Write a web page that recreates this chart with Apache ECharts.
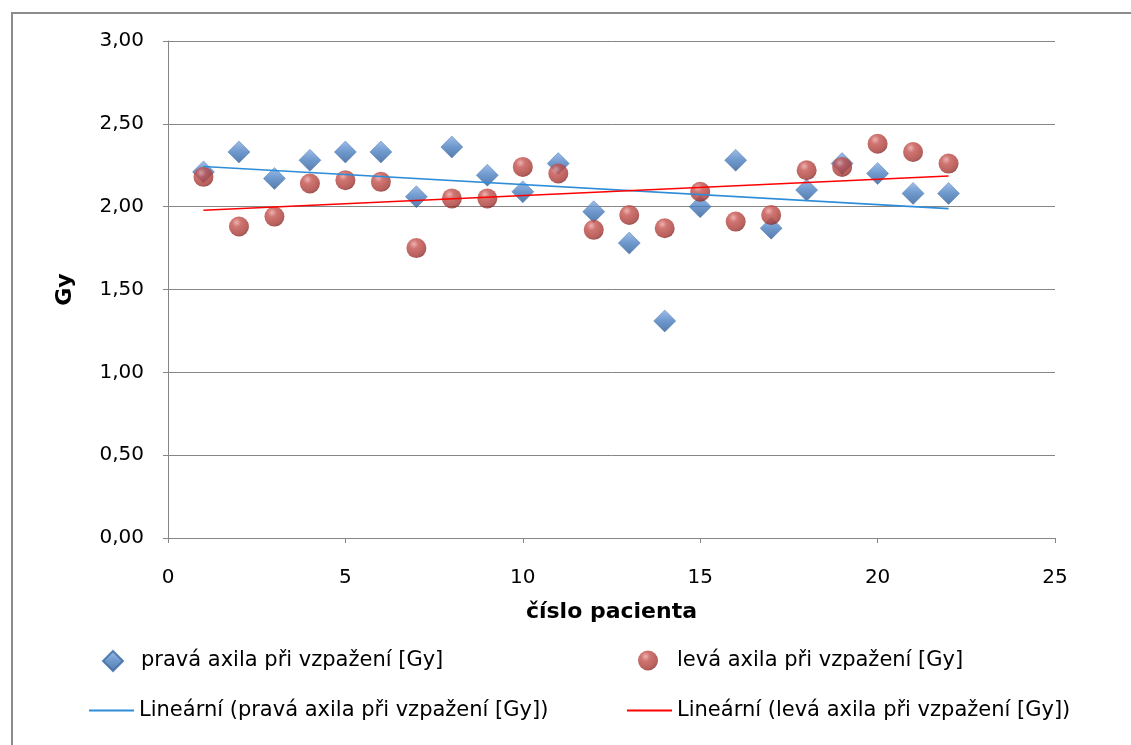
<!DOCTYPE html>
<html>
<head>
<meta charset="utf-8">
<script src="https://cdn.jsdelivr.net/npm/echarts@6/dist/echarts.min.js"></script>
<style>
html,body{margin:0;padding:0;background:#fff;}
#chart{width:1131px;height:745px;}
</style>
</head>
<body>
<div id="chart"></div>
<script>
// Data
const patients = [1,2,3,4,5,6,7,8,9,10,11,12,13,14,15,16,17,18,19,20,21,22];
const rightAxilla = [2.21,2.33,2.17,2.28,2.33,2.33,2.06,2.36,2.19,2.09,2.26,1.97,1.78,1.31,2.00,2.28,1.87,2.10,2.26,2.20,2.08,2.08];
const leftAxilla  = [2.18,1.88,1.94,2.14,2.16,2.15,1.75,2.05,2.05,2.24,2.20,1.86,1.95,1.87,2.09,1.91,1.95,2.22,2.24,2.38,2.33,2.26];
const xTicks = [0,5,10,15,20,25];
const yTicks = [0,0.5,1,1.5,2,2.5,3];

const nameRight = 'pravá axila při vzpažení [Gy]';
const nameLeft = 'levá axila při vzpažení [Gy]';
const nameRightTrend = 'Lineární (pravá axila při vzpažení [Gy])';
const nameLeftTrend = 'Lineární (levá axila při vzpažení [Gy])';

// least-squares linear trend (like Excel's "Lineární" trendline)
function trend(xs, ys) {
  const n = xs.length;
  let sx=0, sy=0, sxx=0, sxy=0;
  for (let i=0;i<n;i++){ sx+=xs[i]; sy+=ys[i]; sxx+=xs[i]*xs[i]; sxy+=xs[i]*ys[i]; }
  const b = (n*sxy - sx*sy)/(n*sxx - sx*sx);
  const a = (sy - b*sx)/n;
  const x0 = xs[0], x1 = xs[n-1];
  return [[x0, a+b*x0],[x1, a+b*x1]];
}

const font = 'DejaVu Sans';
const chart = echarts.init(document.getElementById('chart'), null, {renderer:'canvas'});

const diamondFill = {type:'linear',x:0,y:0,x2:0,y2:1,colorStops:[
  {offset:0,color:'#86AEE2'},{offset:0.5,color:'#4A7EC0'},{offset:1,color:'#2C5B95'}]};
const ballFill = {type:'radial',x:0.38,y:0.3,r:0.75,colorStops:[
  {offset:0,color:'#E8A09D'},{offset:0.3,color:'#C4524E'},{offset:0.8,color:'#A63935'},{offset:1,color:'#772321'}]};

const textStyle = {fontFamily:font,fontSize:21,color:'#000'};

chart.setOption({
  backgroundColor:'#fff',
  animation:false,
  grid:{left:168,right:76,top:41,bottom:207,containLabel:false},
  xAxis:{
    type:'value', min:0, max:25, interval:5,
    name:'číslo pacienta', nameLocation:'middle', nameGap:63,
    nameTextStyle:{fontFamily:font,fontSize:22,fontWeight:'bold',color:'#000'},
    axisLine:{show:true,lineStyle:{color:'#868686',width:1}},
    axisTick:{show:true,length:5,lineStyle:{color:'#868686'}},
    axisLabel:{fontFamily:font,fontSize:20,color:'#000',margin:30,
      formatter:v=> xTicks.includes(v)? String(v):''},
    splitLine:{show:false}
  },
  yAxis:{
    type:'value', min:0, max:3, interval:0.5,
    name:'Gy', nameLocation:'middle', nameGap:92, nameRotate:90,
    nameTextStyle:{fontFamily:font,fontSize:22,fontWeight:'bold',color:'#000'},
    axisLine:{show:true,lineStyle:{color:'#868686',width:1}},
    axisTick:{show:true,length:5,lineStyle:{color:'#868686'}},
    axisLabel:{fontFamily:font,fontSize:20,color:'#000',margin:24,
      formatter:v=> yTicks.includes(v)? v.toFixed(2).replace('.',','):''},
    splitLine:{show:true,lineStyle:{color:'#868686',width:1}}
  },
  legend:[
    {left:102, top:650, padding:0, itemWidth:20, itemHeight:20, selectedMode:false,
      textStyle:Object.assign({padding:[0,0,0,13]}, textStyle), data:[nameRight]},
    {left:638, top:650, padding:0, itemWidth:20, itemHeight:20, selectedMode:false,
      textStyle:Object.assign({padding:[0,0,0,14]}, textStyle), data:[nameLeft]},
    {left:89, top:700, padding:0, itemWidth:45, itemHeight:2, selectedMode:false,
      textStyle:textStyle, data:[{name:nameRightTrend, icon:'rect'}]},
    {left:627, top:700, padding:0, itemWidth:45, itemHeight:2, selectedMode:false,
      textStyle:textStyle, data:[{name:nameLeftTrend, icon:'rect'}]}
  ],
  graphic:[
    {type:'line',shape:{x1:11,y1:13,x2:1131,y2:13},style:{stroke:'#8C8C8C',lineWidth:2},silent:true},
    {type:'line',shape:{x1:12,y1:12,x2:12,y2:745},style:{stroke:'#8C8C8C',lineWidth:2},silent:true}
  ],
  series:[
    {name:nameRight,type:'scatter',symbol:'diamond',symbolSize:22,
      data:patients.map((p,i)=>[p,rightAxilla[i]]),
      itemStyle:{color:diamondFill,borderColor:'#3A69A3',borderWidth:0.5}},
    {name:nameLeft,type:'scatter',symbol:'circle',symbolSize:20,
      data:patients.map((p,i)=>[p,leftAxilla[i]]),
      itemStyle:{color:ballFill}},
    {name:nameRightTrend,type:'line',symbol:'none',
      data:trend(patients,rightAxilla),
      lineStyle:{color:'#2F8DD8',width:1.6},itemStyle:{color:'#2F8DD8'}},
    {name:nameLeftTrend,type:'line',symbol:'none',
      data:trend(patients,leftAxilla),
      lineStyle:{color:'#FF0000',width:1.6},itemStyle:{color:'#FF0000'}}
  ]
});
</script>
</body>
</html>
